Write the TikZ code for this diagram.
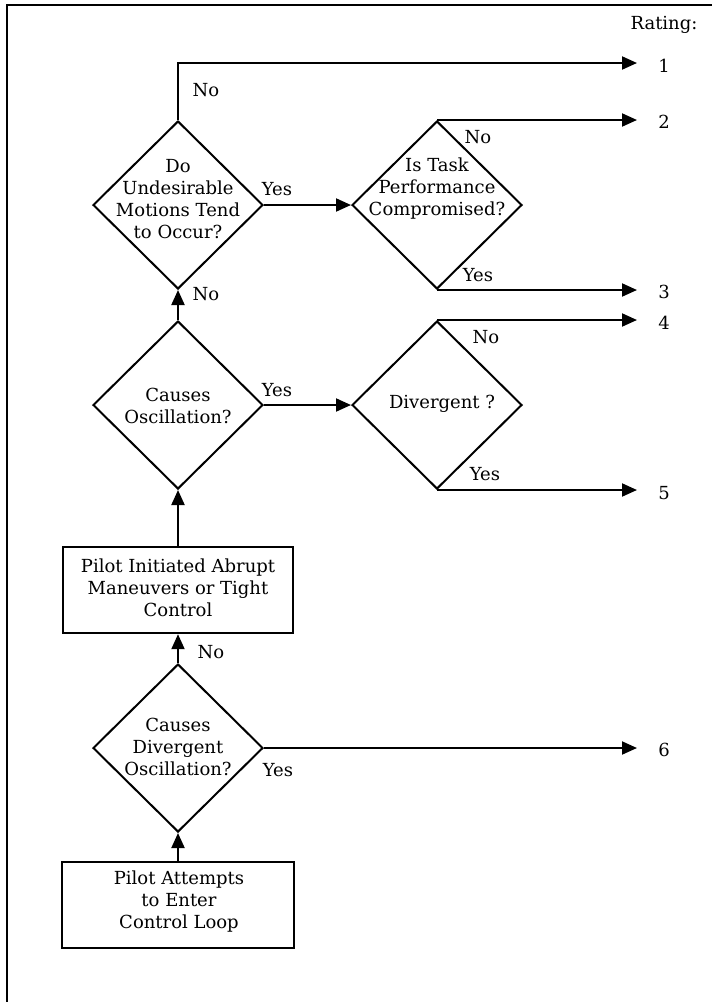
\documentclass[tikz,border=0pt]{standalone}
\usepackage{fontspec}
\setmainfont{DejaVu Serif}
\usetikzlibrary{shapes.geometric,arrows.meta,calc}
\begin{document}
\begin{tikzpicture}[x=1pt,y=-1pt,
  every node/.style={font=\fontsize{18}{22}\selectfont},
  dia/.style={draw,line width=2pt,diamond,minimum width=170pt,minimum height=168pt,inner sep=0pt},
  box/.style={draw,line width=2.4pt,minimum width=230pt,minimum height=86pt,inner sep=0pt},
  txt/.style={align=center,inner sep=0pt},
  lbl/.style={inner sep=0pt},
  arr/.style={line width=2pt,-{Triangle[length=15pt,width=13pt]}},
  frame/.style={line width=2.2pt}]
\useasboundingbox (0,0) rectangle (712,1002);
\draw[frame] (7,1010) -- (7,5) -- (720,5);
% right-hand end column
\coordinate (R) at (637,0);
\coordinate (e1) at (637,63);
% nodes
\node[dia] (d1) at (178,205) {};
\node[txt] (t1) at (178,199) {Do\\Undesirable\\Motions Tend\\to Occur?};
\node[dia] (d2) at (437,205) {};
\node[txt] (t2) at (437,189) {Is Task\\Performance\\Compromised?};
\node[dia] (d3) at (178,405) {};
\node[txt] (t3) at (178,406) {Causes\\Oscillation?};
\node[dia] (d4) at (437,405) {};
\node[txt] (t4) at (442,404) {Divergent ?};
\node[box] (b1) at (178,590) {};
\node[txt] (t5) at (178,588) {Pilot Initiated Abrupt\\Maneuvers or Tight\\Control};
\node[dia] (d5) at (178,748) {};
\node[txt] (t6) at (178,747) {Causes\\Divergent\\Oscillation?};
\node[box,minimum width=232pt] (b2) at (178,905) {};
\node[txt] (t7) at (179,902) {Pilot Attempts\\to Enter\\Control Loop};
% ratings
\node[lbl] (rt) at (664,25) {Rating:};
\node[lbl] (n1) at (664,66) {1};
\node[lbl] (n2) at (664,122) {2};
\node[lbl] (n3) at (664,292) {3};
\node[lbl] (n4) at (664,323) {4};
\node[lbl] (n5) at (664,493) {5};
\node[lbl] (n6) at (664,750) {6};
% connectors
\draw[arr] (b2.north) -- (d5.south);
\draw[arr] (d5.north) -- (b1.south);
\draw[arr] (b1.north) -- (d3.south);
\draw[arr] (d3.north) -- (d1.south);
\draw[arr] (d1.east) -- (d2.west);
\draw[arr] (d3.east) -- (d4.west);
\draw[arr] (d1.north) |- (e1);
\draw[arr] (d2.north) -- (d2.north -| R);
\draw[arr] (d2.south) -- (d2.south -| R);
\draw[arr] (d4.north) -- (d4.north -| R);
\draw[arr] (d4.south) -- (d4.south -| R);
\draw[arr] (d5.east) -- (d5.east -| R);
% branch labels
\node[lbl] (l1) at (206,90) {No};
\node[lbl] (l2) at (277,189) {Yes};
\node[lbl] (l3) at (206,294) {No};
\node[lbl] (l4) at (478,137) {No};
\node[lbl] (l5) at (478,275) {Yes};
\node[lbl] (l6) at (277,390) {Yes};
\node[lbl] (l7) at (486,337) {No};
\node[lbl] (l8) at (485,474) {Yes};
\node[lbl] (l9) at (211,652) {No};
\node[lbl] (l10) at (278,770) {Yes};
\end{tikzpicture}
\end{document}
